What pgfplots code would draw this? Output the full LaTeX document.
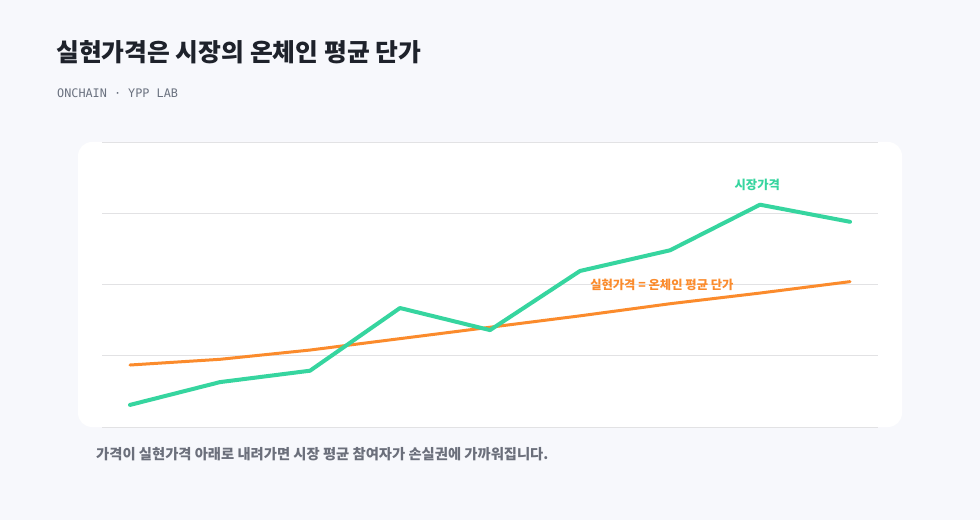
\documentclass[border=0pt]{standalone}
\usepackage{fontspec}
\setmainfont{Noto Sans CJK KR}
\newfontfamily\monofont{DejaVu Sans Mono}
\usepackage{pgfplots}
\pgfplotsset{compat=1.18}
\definecolor{bgc}{HTML}{F7F8FC}
\definecolor{titc}{HTML}{1E222B}
\definecolor{subc}{HTML}{6B7280}
\definecolor{footc}{HTML}{6B6F7B}
\definecolor{gridc}{HTML}{E2E2E4}
\definecolor{greenc}{HTML}{36D59F}
\definecolor{orangec}{HTML}{FB8B2C}
\begin{document}
\begin{tikzpicture}[x=1pt,y=1pt]
\fill[bgc] (0,0) rectangle (980,520);
\fill[white, rounded corners=14pt] (78,93) rectangle (902,378);
\node[anchor=west, font=\fontsize{24.8}{28}\selectfont\bfseries, text=titc, inner sep=0] at (56,468) {실현가격은 시장의 온체인 평균 단가};
\node[anchor=west, font=\monofont\fontsize{11.8}{14}\selectfont, text=subc, inner sep=0] at (57,427) {ONCHAIN · YPP LAB};
\node[anchor=west, font=\fontsize{14.3}{16}\selectfont\bfseries, text=footc, inner sep=0] at (96,66) {가격이 실현가격 아래로 내려가면 시장 평균 참여자가 손실권에 가까워집니다.};
\begin{axis}[at={(102pt,93pt)}, anchor=south west, scale only axis,
  width=776pt, height=285pt,
  xmin=-0.311, xmax=8.311, ymin=0, ymax=4,
  ytick={0,1,2,3,4}, xtick=\empty, yticklabels={},
  ymajorgrids, grid style={gridc, line width=1pt},
  axis line style={draw=none}, major tick length=0pt, clip=false]
\addplot[orangec, line width=3pt, line join=round, line cap=round] coordinates {
(0,0.87) (1,0.95) (2,1.08) (3,1.24) (4,1.40) (5,1.56) (6,1.73) (7,1.88) (8,2.04)};
\addplot[greenc, line width=4pt, line join=round, line cap=round] coordinates {
(0,0.31) (1,0.63) (2,0.79) (3,1.67) (4,1.36) (5,2.19) (6,2.48) (7,3.12) (8,2.88)};
\node[font=\fontsize{12.3}{14}\selectfont\bfseries, text=greenc] at (axis cs:6.97,3.40) {시장가격};
\node[font=\fontsize{12.3}{14}\selectfont\bfseries, text=orangec] at (axis cs:5.91,1.99) {실현가격 = 온체인 평균 단가};
\end{axis}
\end{tikzpicture}
\end{document}
